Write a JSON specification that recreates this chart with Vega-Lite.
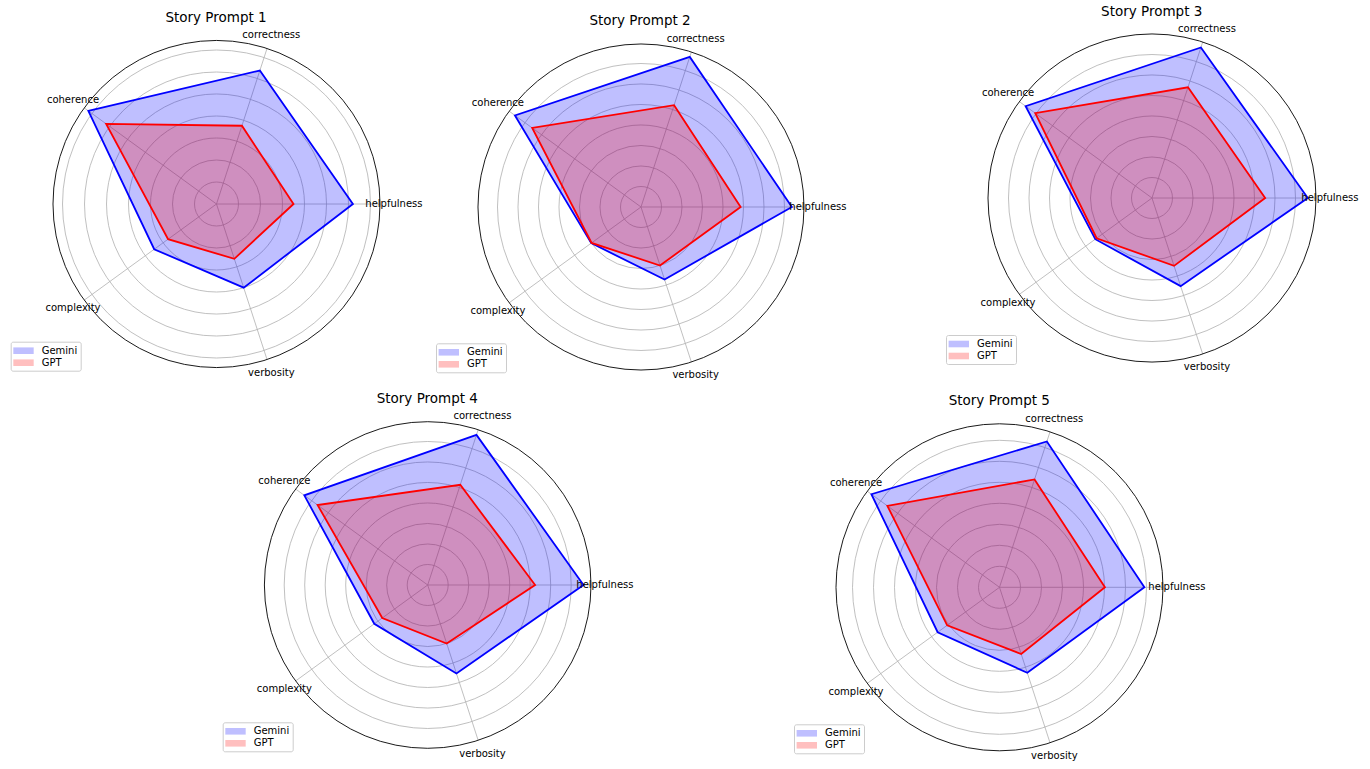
{
  "$schema": "https://vega.github.io/schema/vega-lite/v6.json",
  "autosize": {"type": "pad"},
  "padding": 0,
  "background": "white",
  "config": {
    "view": {"stroke": null},
    "font": "DejaVu Sans",
    "title": {"fontSize": 13.5, "fontWeight": "normal", "color": "#000000", "anchor": "middle", "frame": "group", "baseline": "middle", "font": "DejaVu Sans"}
  },
  "datasets": {
    "scores": [
      {"prompt": 1, "model": "Gemini", "attribute": "helpfulness", "idx": 0, "score": 3.10},
      {"prompt": 1, "model": "Gemini", "attribute": "correctness", "idx": 1, "score": 3.19},
      {"prompt": 1, "model": "Gemini", "attribute": "coherence", "idx": 2, "score": 3.60},
      {"prompt": 1, "model": "Gemini", "attribute": "complexity", "idx": 3, "score": 1.75},
      {"prompt": 1, "model": "Gemini", "attribute": "verbosity", "idx": 4, "score": 2.00},
      {"prompt": 1, "model": "GPT", "attribute": "helpfulness", "idx": 0, "score": 1.75},
      {"prompt": 1, "model": "GPT", "attribute": "correctness", "idx": 1, "score": 1.87},
      {"prompt": 1, "model": "GPT", "attribute": "coherence", "idx": 2, "score": 3.10},
      {"prompt": 1, "model": "GPT", "attribute": "complexity", "idx": 3, "score": 1.36},
      {"prompt": 1, "model": "GPT", "attribute": "verbosity", "idx": 4, "score": 1.31},
      {"prompt": 2, "model": "Gemini", "attribute": "helpfulness", "idx": 0, "score": 3.68},
      {"prompt": 2, "model": "Gemini", "attribute": "correctness", "idx": 1, "score": 3.85},
      {"prompt": 2, "model": "Gemini", "attribute": "coherence", "idx": 2, "score": 3.80},
      {"prompt": 2, "model": "Gemini", "attribute": "complexity", "idx": 3, "score": 1.50},
      {"prompt": 2, "model": "Gemini", "attribute": "verbosity", "idx": 4, "score": 1.86},
      {"prompt": 2, "model": "GPT", "attribute": "helpfulness", "idx": 0, "score": 2.43},
      {"prompt": 2, "model": "GPT", "attribute": "correctness", "idx": 1, "score": 2.61},
      {"prompt": 2, "model": "GPT", "attribute": "coherence", "idx": 2, "score": 3.28},
      {"prompt": 2, "model": "GPT", "attribute": "complexity", "idx": 3, "score": 1.49},
      {"prompt": 2, "model": "GPT", "attribute": "verbosity", "idx": 4, "score": 1.50},
      {"prompt": 3, "model": "Gemini", "attribute": "helpfulness", "idx": 0, "score": 3.80},
      {"prompt": 3, "model": "Gemini", "attribute": "correctness", "idx": 1, "score": 3.86},
      {"prompt": 3, "model": "Gemini", "attribute": "coherence", "idx": 2, "score": 3.81},
      {"prompt": 3, "model": "Gemini", "attribute": "complexity", "idx": 3, "score": 1.71},
      {"prompt": 3, "model": "Gemini", "attribute": "verbosity", "idx": 4, "score": 2.26},
      {"prompt": 3, "model": "GPT", "attribute": "helpfulness", "idx": 0, "score": 2.76},
      {"prompt": 3, "model": "GPT", "attribute": "correctness", "idx": 1, "score": 2.84},
      {"prompt": 3, "model": "GPT", "attribute": "coherence", "idx": 2, "score": 3.52},
      {"prompt": 3, "model": "GPT", "attribute": "complexity", "idx": 3, "score": 1.67},
      {"prompt": 3, "model": "GPT", "attribute": "verbosity", "idx": 4, "score": 1.74},
      {"prompt": 4, "model": "Gemini", "attribute": "helpfulness", "idx": 0, "score": 3.80},
      {"prompt": 4, "model": "Gemini", "attribute": "correctness", "idx": 1, "score": 3.85},
      {"prompt": 4, "model": "Gemini", "attribute": "coherence", "idx": 2, "score": 3.72},
      {"prompt": 4, "model": "Gemini", "attribute": "complexity", "idx": 3, "score": 1.61},
      {"prompt": 4, "model": "Gemini", "attribute": "verbosity", "idx": 4, "score": 2.27},
      {"prompt": 4, "model": "GPT", "attribute": "helpfulness", "idx": 0, "score": 2.62},
      {"prompt": 4, "model": "GPT", "attribute": "correctness", "idx": 1, "score": 2.57},
      {"prompt": 4, "model": "GPT", "attribute": "coherence", "idx": 2, "score": 3.32},
      {"prompt": 4, "model": "GPT", "attribute": "complexity", "idx": 3, "score": 1.37},
      {"prompt": 4, "model": "GPT", "attribute": "verbosity", "idx": 4, "score": 1.50},
      {"prompt": 5, "model": "Gemini", "attribute": "helpfulness", "idx": 0, "score": 3.45},
      {"prompt": 5, "model": "Gemini", "attribute": "correctness", "idx": 1, "score": 3.65},
      {"prompt": 5, "model": "Gemini", "attribute": "coherence", "idx": 2, "score": 3.77},
      {"prompt": 5, "model": "Gemini", "attribute": "complexity", "idx": 3, "score": 1.82},
      {"prompt": 5, "model": "Gemini", "attribute": "verbosity", "idx": 4, "score": 2.14},
      {"prompt": 5, "model": "GPT", "attribute": "helpfulness", "idx": 0, "score": 2.51},
      {"prompt": 5, "model": "GPT", "attribute": "correctness", "idx": 1, "score": 2.70},
      {"prompt": 5, "model": "GPT", "attribute": "coherence", "idx": 2, "score": 3.30},
      {"prompt": 5, "model": "GPT", "attribute": "complexity", "idx": 3, "score": 1.54},
      {"prompt": 5, "model": "GPT", "attribute": "verbosity", "idx": 4, "score": 1.67}
    ],
    "attributes": [
      {"attribute": "helpfulness", "idx": 0},
      {"attribute": "correctness", "idx": 1},
      {"attribute": "coherence", "idx": 2},
      {"attribute": "complexity", "idx": 3},
      {"attribute": "verbosity", "idx": 4}
    ],
    "rings": [
      {"r": 0.5}, {"r": 1.0}, {"r": 1.5}, {"r": 2.0}, {"r": 2.5}, {"r": 3.0}, {"r": 3.5}, {"r": 4.0}
    ],
    "frames": [
      {"prompt": 1, "rmax": 3.716},
      {"prompt": 2, "rmax": 3.976},
      {"prompt": 3, "rmax": 4.0},
      {"prompt": 4, "rmax": 3.983},
      {"prompt": 5, "rmax": 3.893}
    ]
  },
  "spacing": 0,
  "resolve": {"scale": {"x": "independent", "y": "independent", "size": "independent", "fill": "independent"}},
  "vconcat": [
    {
      "spacing": 0,
      "bounds": "flush",
      "resolve": {"scale": {"x": "independent", "y": "independent", "size": "independent", "fill": "independent"}},
      "hconcat": [
        {
          "width": 430, "height": 384,
          "title": {"text": "Story Prompt 1", "dx": 1, "offset": -24},
          "layer": [
            {"data": {"name": "rings"}, "transform": [{"filter": "datum.r < 3.70"}, {"calculate": "0", "as": "o"}],
             "mark": {"type": "point", "shape": "circle", "filled": false, "stroke": "#b0b0b0", "strokeWidth": 0.8, "opacity": 1},
             "encoding": {
               "x": {"field": "o", "type": "quantitative", "scale": {"domain": [-4.9205, 4.8523], "nice": false, "zero": false}, "axis": null},
               "y": {"field": "o", "type": "quantitative", "scale": {"domain": [-4.0909, 4.6364], "nice": false, "zero": false}, "axis": null},
               "size": {"field": "r", "type": "quantitative", "scale": {"type": "pow", "exponent": 2, "domain": [0, 5], "range": [0, 193600]}, "legend": null}}},
            {"data": {"name": "attributes"},
             "transform": [{"calculate": "0", "as": "o"}, {"calculate": "3.716*cos(datum.idx*2*PI/5)", "as": "sx"}, {"calculate": "3.716*sin(datum.idx*2*PI/5)", "as": "sy"}],
             "mark": {"type": "rule", "stroke": "#b0b0b0", "strokeWidth": 0.8},
             "encoding": {
               "x": {"field": "o", "type": "quantitative", "scale": {"domain": [-4.9205, 4.8523], "nice": false, "zero": false}, "axis": null},
               "y": {"field": "o", "type": "quantitative", "scale": {"domain": [-4.0909, 4.6364], "nice": false, "zero": false}, "axis": null},
               "x2": {"field": "sx"}, "y2": {"field": "sy"}}},
            {"data": {"name": "scores"},
             "transform": [{"filter": "datum.prompt == 1 && datum.model == 'Gemini'"}, {"calculate": "datum.score*cos(datum.idx*2*PI/5)", "as": "px"}, {"calculate": "datum.score*sin(datum.idx*2*PI/5)", "as": "py"}],
             "mark": {"type": "line", "interpolate": "linear-closed", "stroke": "#0000ff", "strokeWidth": 1.8, "fillOpacity": 0.25},
             "encoding": {
               "x": {"field": "px", "type": "quantitative", "scale": {"domain": [-4.9205, 4.8523], "nice": false, "zero": false}, "axis": null},
               "y": {"field": "py", "type": "quantitative", "scale": {"domain": [-4.0909, 4.6364], "nice": false, "zero": false}, "axis": null},
               "order": {"field": "idx", "type": "quantitative"},
               "fill": {"field": "model", "type": "nominal", "scale": {"domain": ["Gemini", "GPT"], "range": ["#0000ff", "#ff0000"]},
                        "legend": {"title": null, "orient": "none", "legendX": 10.7, "legendY": 341.7, "symbolType": "M-1.7,-0.55H1.7V0.55H-1.7Z", "symbolSize": 144, "symbolOffset": 3.8, "labelOffset": 12.2, "labelFontSize": 10, "labelColor": "#000000", "labelFont": "DejaVu Sans", "padding": 3, "rowPadding": 1, "strokeColor": "#cccccc", "fillColor": "#ffffff", "cornerRadius": 2, "symbolOpacity": 0.25, "symbolStrokeWidth": 0}}}},
            {"data": {"name": "scores"},
             "transform": [{"filter": "datum.prompt == 1 && datum.model == 'GPT'"}, {"calculate": "datum.score*cos(datum.idx*2*PI/5)", "as": "px"}, {"calculate": "datum.score*sin(datum.idx*2*PI/5)", "as": "py"}],
             "mark": {"type": "line", "interpolate": "linear-closed", "stroke": "#ff0000", "strokeWidth": 1.8, "fillOpacity": 0.25},
             "encoding": {
               "x": {"field": "px", "type": "quantitative", "scale": {"domain": [-4.9205, 4.8523], "nice": false, "zero": false}, "axis": null},
               "y": {"field": "py", "type": "quantitative", "scale": {"domain": [-4.0909, 4.6364], "nice": false, "zero": false}, "axis": null},
               "order": {"field": "idx", "type": "quantitative"},
               "fill": {"field": "model", "type": "nominal", "scale": {"domain": ["Gemini", "GPT"], "range": ["#0000ff", "#ff0000"]}}}},
            {"data": {"name": "frames"}, "transform": [{"filter": "datum.prompt == 1"}, {"calculate": "0", "as": "o"}],
             "mark": {"type": "point", "shape": "circle", "filled": false, "stroke": "#000000", "strokeWidth": 0.9, "opacity": 1},
             "encoding": {
               "x": {"field": "o", "type": "quantitative", "scale": {"domain": [-4.9205, 4.8523], "nice": false, "zero": false}, "axis": null},
               "y": {"field": "o", "type": "quantitative", "scale": {"domain": [-4.0909, 4.6364], "nice": false, "zero": false}, "axis": null},
               "size": {"field": "rmax", "type": "quantitative", "scale": {"type": "pow", "exponent": 2, "domain": [0, 5], "range": [0, 193600]}, "legend": null}}},
            {"data": {"name": "attributes"},
             "transform": [{"calculate": "4.032*cos(datum.idx*2*PI/5)", "as": "lx"}, {"calculate": "4.032*sin(datum.idx*2*PI/5)", "as": "ly"}],
             "mark": {"type": "text", "fontSize": 10, "align": "center", "baseline": "middle", "color": "#000000", "font": "DejaVu Sans"},
             "encoding": {
               "x": {"field": "lx", "type": "quantitative", "scale": {"domain": [-4.9205, 4.8523], "nice": false, "zero": false}, "axis": null},
               "y": {"field": "ly", "type": "quantitative", "scale": {"domain": [-4.0909, 4.6364], "nice": false, "zero": false}, "axis": null},
               "text": {"field": "attribute", "type": "nominal"}}}
          ]
        },
        {
          "width": 470, "height": 384,
          "title": {"text": "Story Prompt 2", "dx": -25, "offset": -27},
          "layer": [
            {"data": {"name": "rings"}, "transform": [{"filter": "datum.r < 3.96"}, {"calculate": "0", "as": "o"}],
             "mark": {"type": "point", "shape": "circle", "filled": false, "stroke": "#b0b0b0", "strokeWidth": 0.8, "opacity": 1},
             "encoding": {
               "x": {"field": "o", "type": "quantitative", "scale": {"domain": [-5.1463, 6.3171], "nice": false, "zero": false}, "axis": null},
               "y": {"field": "o", "type": "quantitative", "scale": {"domain": [-4.3171, 5.0488], "nice": false, "zero": false}, "axis": null},
               "size": {"field": "r", "type": "quantitative", "scale": {"type": "pow", "exponent": 2, "domain": [0, 5], "range": [0, 168100]}, "legend": null}}},
            {"data": {"name": "attributes"},
             "transform": [{"calculate": "0", "as": "o"}, {"calculate": "3.976*cos(datum.idx*2*PI/5)", "as": "sx"}, {"calculate": "3.976*sin(datum.idx*2*PI/5)", "as": "sy"}],
             "mark": {"type": "rule", "stroke": "#b0b0b0", "strokeWidth": 0.8},
             "encoding": {
               "x": {"field": "o", "type": "quantitative", "scale": {"domain": [-5.1463, 6.3171], "nice": false, "zero": false}, "axis": null},
               "y": {"field": "o", "type": "quantitative", "scale": {"domain": [-4.3171, 5.0488], "nice": false, "zero": false}, "axis": null},
               "x2": {"field": "sx"}, "y2": {"field": "sy"}}},
            {"data": {"name": "scores"},
             "transform": [{"filter": "datum.prompt == 2 && datum.model == 'Gemini'"}, {"calculate": "datum.score*cos(datum.idx*2*PI/5)", "as": "px"}, {"calculate": "datum.score*sin(datum.idx*2*PI/5)", "as": "py"}],
             "mark": {"type": "line", "interpolate": "linear-closed", "stroke": "#0000ff", "strokeWidth": 1.8, "fillOpacity": 0.25},
             "encoding": {
               "x": {"field": "px", "type": "quantitative", "scale": {"domain": [-5.1463, 6.3171], "nice": false, "zero": false}, "axis": null},
               "y": {"field": "py", "type": "quantitative", "scale": {"domain": [-4.3171, 5.0488], "nice": false, "zero": false}, "axis": null},
               "order": {"field": "idx", "type": "quantitative"},
               "fill": {"field": "model", "type": "nominal", "scale": {"domain": ["Gemini", "GPT"], "range": ["#0000ff", "#ff0000"]},
                        "legend": {"title": null, "orient": "none", "legendX": 6, "legendY": 343.3, "symbolType": "M-1.7,-0.55H1.7V0.55H-1.7Z", "symbolSize": 144, "symbolOffset": 3.8, "labelOffset": 12.2, "labelFontSize": 10, "labelColor": "#000000", "labelFont": "DejaVu Sans", "padding": 3, "rowPadding": 1, "strokeColor": "#cccccc", "fillColor": "#ffffff", "cornerRadius": 2, "symbolOpacity": 0.25, "symbolStrokeWidth": 0}}}},
            {"data": {"name": "scores"},
             "transform": [{"filter": "datum.prompt == 2 && datum.model == 'GPT'"}, {"calculate": "datum.score*cos(datum.idx*2*PI/5)", "as": "px"}, {"calculate": "datum.score*sin(datum.idx*2*PI/5)", "as": "py"}],
             "mark": {"type": "line", "interpolate": "linear-closed", "stroke": "#ff0000", "strokeWidth": 1.8, "fillOpacity": 0.25},
             "encoding": {
               "x": {"field": "px", "type": "quantitative", "scale": {"domain": [-5.1463, 6.3171], "nice": false, "zero": false}, "axis": null},
               "y": {"field": "py", "type": "quantitative", "scale": {"domain": [-4.3171, 5.0488], "nice": false, "zero": false}, "axis": null},
               "order": {"field": "idx", "type": "quantitative"},
               "fill": {"field": "model", "type": "nominal", "scale": {"domain": ["Gemini", "GPT"], "range": ["#0000ff", "#ff0000"]}}}},
            {"data": {"name": "frames"}, "transform": [{"filter": "datum.prompt == 2"}, {"calculate": "0", "as": "o"}],
             "mark": {"type": "point", "shape": "circle", "filled": false, "stroke": "#000000", "strokeWidth": 0.9, "opacity": 1},
             "encoding": {
               "x": {"field": "o", "type": "quantitative", "scale": {"domain": [-5.1463, 6.3171], "nice": false, "zero": false}, "axis": null},
               "y": {"field": "o", "type": "quantitative", "scale": {"domain": [-4.3171, 5.0488], "nice": false, "zero": false}, "axis": null},
               "size": {"field": "rmax", "type": "quantitative", "scale": {"type": "pow", "exponent": 2, "domain": [0, 5], "range": [0, 168100]}, "legend": null}}},
            {"data": {"name": "attributes"},
             "transform": [{"calculate": "4.314*cos(datum.idx*2*PI/5)", "as": "lx"}, {"calculate": "4.314*sin(datum.idx*2*PI/5)", "as": "ly"}],
             "mark": {"type": "text", "fontSize": 10, "align": "center", "baseline": "middle", "color": "#000000", "font": "DejaVu Sans"},
             "encoding": {
               "x": {"field": "lx", "type": "quantitative", "scale": {"domain": [-5.1463, 6.3171], "nice": false, "zero": false}, "axis": null},
               "y": {"field": "ly", "type": "quantitative", "scale": {"domain": [-4.3171, 5.0488], "nice": false, "zero": false}, "axis": null},
               "text": {"field": "attribute", "type": "nominal"}}}
          ]
        },
        {
          "width": 470, "height": 384,
          "title": {"text": "Story Prompt 3", "dx": 16.7, "offset": -18},
          "layer": [
            {"data": {"name": "rings"}, "transform": [{"filter": "datum.r < 3.98"}, {"calculate": "0", "as": "o"}],
             "mark": {"type": "point", "shape": "circle", "filled": false, "stroke": "#b0b0b0", "strokeWidth": 0.8, "opacity": 1},
             "encoding": {
               "x": {"field": "o", "type": "quantitative", "scale": {"domain": [-6.1463, 5.3171], "nice": false, "zero": false}, "axis": null},
               "y": {"field": "o", "type": "quantitative", "scale": {"domain": [-4.5366, 4.8293], "nice": false, "zero": false}, "axis": null},
               "size": {"field": "r", "type": "quantitative", "scale": {"type": "pow", "exponent": 2, "domain": [0, 5], "range": [0, 168100]}, "legend": null}}},
            {"data": {"name": "attributes"},
             "transform": [{"calculate": "0", "as": "o"}, {"calculate": "4.0*cos(datum.idx*2*PI/5)", "as": "sx"}, {"calculate": "4.0*sin(datum.idx*2*PI/5)", "as": "sy"}],
             "mark": {"type": "rule", "stroke": "#b0b0b0", "strokeWidth": 0.8},
             "encoding": {
               "x": {"field": "o", "type": "quantitative", "scale": {"domain": [-6.1463, 5.3171], "nice": false, "zero": false}, "axis": null},
               "y": {"field": "o", "type": "quantitative", "scale": {"domain": [-4.5366, 4.8293], "nice": false, "zero": false}, "axis": null},
               "x2": {"field": "sx"}, "y2": {"field": "sy"}}},
            {"data": {"name": "scores"},
             "transform": [{"filter": "datum.prompt == 3 && datum.model == 'Gemini'"}, {"calculate": "datum.score*cos(datum.idx*2*PI/5)", "as": "px"}, {"calculate": "datum.score*sin(datum.idx*2*PI/5)", "as": "py"}],
             "mark": {"type": "line", "interpolate": "linear-closed", "stroke": "#0000ff", "strokeWidth": 1.8, "fillOpacity": 0.25},
             "encoding": {
               "x": {"field": "px", "type": "quantitative", "scale": {"domain": [-6.1463, 5.3171], "nice": false, "zero": false}, "axis": null},
               "y": {"field": "py", "type": "quantitative", "scale": {"domain": [-4.5366, 4.8293], "nice": false, "zero": false}, "axis": null},
               "order": {"field": "idx", "type": "quantitative"},
               "fill": {"field": "model", "type": "nominal", "scale": {"domain": ["Gemini", "GPT"], "range": ["#0000ff", "#ff0000"]},
                        "legend": {"title": null, "orient": "none", "legendX": 46, "legendY": 335, "symbolType": "M-1.7,-0.55H1.7V0.55H-1.7Z", "symbolSize": 144, "symbolOffset": 3.8, "labelOffset": 12.2, "labelFontSize": 10, "labelColor": "#000000", "labelFont": "DejaVu Sans", "padding": 3, "rowPadding": 1, "strokeColor": "#cccccc", "fillColor": "#ffffff", "cornerRadius": 2, "symbolOpacity": 0.25, "symbolStrokeWidth": 0}}}},
            {"data": {"name": "scores"},
             "transform": [{"filter": "datum.prompt == 3 && datum.model == 'GPT'"}, {"calculate": "datum.score*cos(datum.idx*2*PI/5)", "as": "px"}, {"calculate": "datum.score*sin(datum.idx*2*PI/5)", "as": "py"}],
             "mark": {"type": "line", "interpolate": "linear-closed", "stroke": "#ff0000", "strokeWidth": 1.8, "fillOpacity": 0.25},
             "encoding": {
               "x": {"field": "px", "type": "quantitative", "scale": {"domain": [-6.1463, 5.3171], "nice": false, "zero": false}, "axis": null},
               "y": {"field": "py", "type": "quantitative", "scale": {"domain": [-4.5366, 4.8293], "nice": false, "zero": false}, "axis": null},
               "order": {"field": "idx", "type": "quantitative"},
               "fill": {"field": "model", "type": "nominal", "scale": {"domain": ["Gemini", "GPT"], "range": ["#0000ff", "#ff0000"]}}}},
            {"data": {"name": "frames"}, "transform": [{"filter": "datum.prompt == 3"}, {"calculate": "0", "as": "o"}],
             "mark": {"type": "point", "shape": "circle", "filled": false, "stroke": "#000000", "strokeWidth": 0.9, "opacity": 1},
             "encoding": {
               "x": {"field": "o", "type": "quantitative", "scale": {"domain": [-6.1463, 5.3171], "nice": false, "zero": false}, "axis": null},
               "y": {"field": "o", "type": "quantitative", "scale": {"domain": [-4.5366, 4.8293], "nice": false, "zero": false}, "axis": null},
               "size": {"field": "rmax", "type": "quantitative", "scale": {"type": "pow", "exponent": 2, "domain": [0, 5], "range": [0, 168100]}, "legend": null}}},
            {"data": {"name": "attributes"},
             "transform": [{"calculate": "4.34*cos(datum.idx*2*PI/5)", "as": "lx"}, {"calculate": "4.34*sin(datum.idx*2*PI/5)", "as": "ly"}],
             "mark": {"type": "text", "fontSize": 10, "align": "center", "baseline": "middle", "color": "#000000", "font": "DejaVu Sans"},
             "encoding": {
               "x": {"field": "lx", "type": "quantitative", "scale": {"domain": [-6.1463, 5.3171], "nice": false, "zero": false}, "axis": null},
               "y": {"field": "ly", "type": "quantitative", "scale": {"domain": [-4.5366, 4.8293], "nice": false, "zero": false}, "axis": null},
               "text": {"field": "attribute", "type": "nominal"}}}
          ]
        }
      ]
    },
    {
      "spacing": 0,
      "bounds": "flush",
      "resolve": {"scale": {"x": "independent", "y": "independent", "size": "independent", "fill": "independent"}},
      "hconcat": [
        {
          "width": 700, "height": 385,
          "title": {"text": "Story Prompt 4", "dx": 77.3, "offset": -21.3},
          "layer": [
            {"data": {"name": "rings"}, "transform": [{"filter": "datum.r < 3.96"}, {"calculate": "0", "as": "o"}],
             "mark": {"type": "point", "shape": "circle", "filled": false, "stroke": "#b0b0b0", "strokeWidth": 0.8, "opacity": 1},
             "encoding": {
               "x": {"field": "o", "type": "quantitative", "scale": {"domain": [-10.4317, 6.6415], "nice": false, "zero": false}, "axis": null},
               "y": {"field": "o", "type": "quantitative", "scale": {"domain": [-4.4878, 4.9024], "nice": false, "zero": false}, "axis": null},
               "size": {"field": "r", "type": "quantitative", "scale": {"type": "pow", "exponent": 2, "domain": [0, 5], "range": [0, 168100]}, "legend": null}}},
            {"data": {"name": "attributes"},
             "transform": [{"calculate": "0", "as": "o"}, {"calculate": "3.983*cos(datum.idx*2*PI/5)", "as": "sx"}, {"calculate": "3.983*sin(datum.idx*2*PI/5)", "as": "sy"}],
             "mark": {"type": "rule", "stroke": "#b0b0b0", "strokeWidth": 0.8},
             "encoding": {
               "x": {"field": "o", "type": "quantitative", "scale": {"domain": [-10.4317, 6.6415], "nice": false, "zero": false}, "axis": null},
               "y": {"field": "o", "type": "quantitative", "scale": {"domain": [-4.4878, 4.9024], "nice": false, "zero": false}, "axis": null},
               "x2": {"field": "sx"}, "y2": {"field": "sy"}}},
            {"data": {"name": "scores"},
             "transform": [{"filter": "datum.prompt == 4 && datum.model == 'Gemini'"}, {"calculate": "datum.score*cos(datum.idx*2*PI/5)", "as": "px"}, {"calculate": "datum.score*sin(datum.idx*2*PI/5)", "as": "py"}],
             "mark": {"type": "line", "interpolate": "linear-closed", "stroke": "#0000ff", "strokeWidth": 1.8, "fillOpacity": 0.25},
             "encoding": {
               "x": {"field": "px", "type": "quantitative", "scale": {"domain": [-10.4317, 6.6415], "nice": false, "zero": false}, "axis": null},
               "y": {"field": "py", "type": "quantitative", "scale": {"domain": [-4.4878, 4.9024], "nice": false, "zero": false}, "axis": null},
               "order": {"field": "idx", "type": "quantitative"},
               "fill": {"field": "model", "type": "nominal", "scale": {"domain": ["Gemini", "GPT"], "range": ["#0000ff", "#ff0000"]},
                        "legend": {"title": null, "orient": "none", "legendX": 222.7, "legendY": 338.3, "symbolType": "M-1.7,-0.55H1.7V0.55H-1.7Z", "symbolSize": 144, "symbolOffset": 3.8, "labelOffset": 12.2, "labelFontSize": 10, "labelColor": "#000000", "labelFont": "DejaVu Sans", "padding": 3, "rowPadding": 1, "strokeColor": "#cccccc", "fillColor": "#ffffff", "cornerRadius": 2, "symbolOpacity": 0.25, "symbolStrokeWidth": 0}}}},
            {"data": {"name": "scores"},
             "transform": [{"filter": "datum.prompt == 4 && datum.model == 'GPT'"}, {"calculate": "datum.score*cos(datum.idx*2*PI/5)", "as": "px"}, {"calculate": "datum.score*sin(datum.idx*2*PI/5)", "as": "py"}],
             "mark": {"type": "line", "interpolate": "linear-closed", "stroke": "#ff0000", "strokeWidth": 1.8, "fillOpacity": 0.25},
             "encoding": {
               "x": {"field": "px", "type": "quantitative", "scale": {"domain": [-10.4317, 6.6415], "nice": false, "zero": false}, "axis": null},
               "y": {"field": "py", "type": "quantitative", "scale": {"domain": [-4.4878, 4.9024], "nice": false, "zero": false}, "axis": null},
               "order": {"field": "idx", "type": "quantitative"},
               "fill": {"field": "model", "type": "nominal", "scale": {"domain": ["Gemini", "GPT"], "range": ["#0000ff", "#ff0000"]}}}},
            {"data": {"name": "frames"}, "transform": [{"filter": "datum.prompt == 4"}, {"calculate": "0", "as": "o"}],
             "mark": {"type": "point", "shape": "circle", "filled": false, "stroke": "#000000", "strokeWidth": 0.9, "opacity": 1},
             "encoding": {
               "x": {"field": "o", "type": "quantitative", "scale": {"domain": [-10.4317, 6.6415], "nice": false, "zero": false}, "axis": null},
               "y": {"field": "o", "type": "quantitative", "scale": {"domain": [-4.4878, 4.9024], "nice": false, "zero": false}, "axis": null},
               "size": {"field": "rmax", "type": "quantitative", "scale": {"type": "pow", "exponent": 2, "domain": [0, 5], "range": [0, 168100]}, "legend": null}}},
            {"data": {"name": "attributes"},
             "transform": [{"calculate": "4.322*cos(datum.idx*2*PI/5)", "as": "lx"}, {"calculate": "4.322*sin(datum.idx*2*PI/5)", "as": "ly"}],
             "mark": {"type": "text", "fontSize": 10, "align": "center", "baseline": "middle", "color": "#000000", "font": "DejaVu Sans"},
             "encoding": {
               "x": {"field": "lx", "type": "quantitative", "scale": {"domain": [-10.4317, 6.6415], "nice": false, "zero": false}, "axis": null},
               "y": {"field": "ly", "type": "quantitative", "scale": {"domain": [-4.4878, 4.9024], "nice": false, "zero": false}, "axis": null},
               "text": {"field": "attribute", "type": "nominal"}}}
          ]
        },
        {
          "width": 670, "height": 385,
          "title": {"text": "Story Prompt 5", "dx": -35.7, "offset": -23},
          "layer": [
            {"data": {"name": "rings"}, "transform": [{"filter": "datum.r < 3.88"}, {"calculate": "0", "as": "o"}],
             "mark": {"type": "point", "shape": "circle", "filled": false, "stroke": "#b0b0b0", "strokeWidth": 0.8, "opacity": 1},
             "encoding": {
               "x": {"field": "o", "type": "quantitative", "scale": {"domain": [-7.131, 8.8214], "nice": false, "zero": false}, "axis": null},
               "y": {"field": "o", "type": "quantitative", "scale": {"domain": [-4.3262, 4.8405], "nice": false, "zero": false}, "axis": null},
               "size": {"field": "r", "type": "quantitative", "scale": {"type": "pow", "exponent": 2, "domain": [0, 5], "range": [0, 176400]}, "legend": null}}},
            {"data": {"name": "attributes"},
             "transform": [{"calculate": "0", "as": "o"}, {"calculate": "3.893*cos(datum.idx*2*PI/5)", "as": "sx"}, {"calculate": "3.893*sin(datum.idx*2*PI/5)", "as": "sy"}],
             "mark": {"type": "rule", "stroke": "#b0b0b0", "strokeWidth": 0.8},
             "encoding": {
               "x": {"field": "o", "type": "quantitative", "scale": {"domain": [-7.131, 8.8214], "nice": false, "zero": false}, "axis": null},
               "y": {"field": "o", "type": "quantitative", "scale": {"domain": [-4.3262, 4.8405], "nice": false, "zero": false}, "axis": null},
               "x2": {"field": "sx"}, "y2": {"field": "sy"}}},
            {"data": {"name": "scores"},
             "transform": [{"filter": "datum.prompt == 5 && datum.model == 'Gemini'"}, {"calculate": "datum.score*cos(datum.idx*2*PI/5)", "as": "px"}, {"calculate": "datum.score*sin(datum.idx*2*PI/5)", "as": "py"}],
             "mark": {"type": "line", "interpolate": "linear-closed", "stroke": "#0000ff", "strokeWidth": 1.8, "fillOpacity": 0.25},
             "encoding": {
               "x": {"field": "px", "type": "quantitative", "scale": {"domain": [-7.131, 8.8214], "nice": false, "zero": false}, "axis": null},
               "y": {"field": "py", "type": "quantitative", "scale": {"domain": [-4.3262, 4.8405], "nice": false, "zero": false}, "axis": null},
               "order": {"field": "idx", "type": "quantitative"},
               "fill": {"field": "model", "type": "nominal", "scale": {"domain": ["Gemini", "GPT"], "range": ["#0000ff", "#ff0000"]},
                        "legend": {"title": null, "orient": "none", "legendX": 94, "legendY": 340.3, "symbolType": "M-1.7,-0.55H1.7V0.55H-1.7Z", "symbolSize": 144, "symbolOffset": 3.8, "labelOffset": 12.2, "labelFontSize": 10, "labelColor": "#000000", "labelFont": "DejaVu Sans", "padding": 3, "rowPadding": 1, "strokeColor": "#cccccc", "fillColor": "#ffffff", "cornerRadius": 2, "symbolOpacity": 0.25, "symbolStrokeWidth": 0}}}},
            {"data": {"name": "scores"},
             "transform": [{"filter": "datum.prompt == 5 && datum.model == 'GPT'"}, {"calculate": "datum.score*cos(datum.idx*2*PI/5)", "as": "px"}, {"calculate": "datum.score*sin(datum.idx*2*PI/5)", "as": "py"}],
             "mark": {"type": "line", "interpolate": "linear-closed", "stroke": "#ff0000", "strokeWidth": 1.8, "fillOpacity": 0.25},
             "encoding": {
               "x": {"field": "px", "type": "quantitative", "scale": {"domain": [-7.131, 8.8214], "nice": false, "zero": false}, "axis": null},
               "y": {"field": "py", "type": "quantitative", "scale": {"domain": [-4.3262, 4.8405], "nice": false, "zero": false}, "axis": null},
               "order": {"field": "idx", "type": "quantitative"},
               "fill": {"field": "model", "type": "nominal", "scale": {"domain": ["Gemini", "GPT"], "range": ["#0000ff", "#ff0000"]}}}},
            {"data": {"name": "frames"}, "transform": [{"filter": "datum.prompt == 5"}, {"calculate": "0", "as": "o"}],
             "mark": {"type": "point", "shape": "circle", "filled": false, "stroke": "#000000", "strokeWidth": 0.9, "opacity": 1},
             "encoding": {
               "x": {"field": "o", "type": "quantitative", "scale": {"domain": [-7.131, 8.8214], "nice": false, "zero": false}, "axis": null},
               "y": {"field": "o", "type": "quantitative", "scale": {"domain": [-4.3262, 4.8405], "nice": false, "zero": false}, "axis": null},
               "size": {"field": "rmax", "type": "quantitative", "scale": {"type": "pow", "exponent": 2, "domain": [0, 5], "range": [0, 176400]}, "legend": null}}},
            {"data": {"name": "attributes"},
             "transform": [{"calculate": "4.224*cos(datum.idx*2*PI/5)", "as": "lx"}, {"calculate": "4.224*sin(datum.idx*2*PI/5)", "as": "ly"}],
             "mark": {"type": "text", "fontSize": 10, "align": "center", "baseline": "middle", "color": "#000000", "font": "DejaVu Sans"},
             "encoding": {
               "x": {"field": "lx", "type": "quantitative", "scale": {"domain": [-7.131, 8.8214], "nice": false, "zero": false}, "axis": null},
               "y": {"field": "ly", "type": "quantitative", "scale": {"domain": [-4.3262, 4.8405], "nice": false, "zero": false}, "axis": null},
               "text": {"field": "attribute", "type": "nominal"}}}
          ]
        }
      ]
    }
  ]
}
